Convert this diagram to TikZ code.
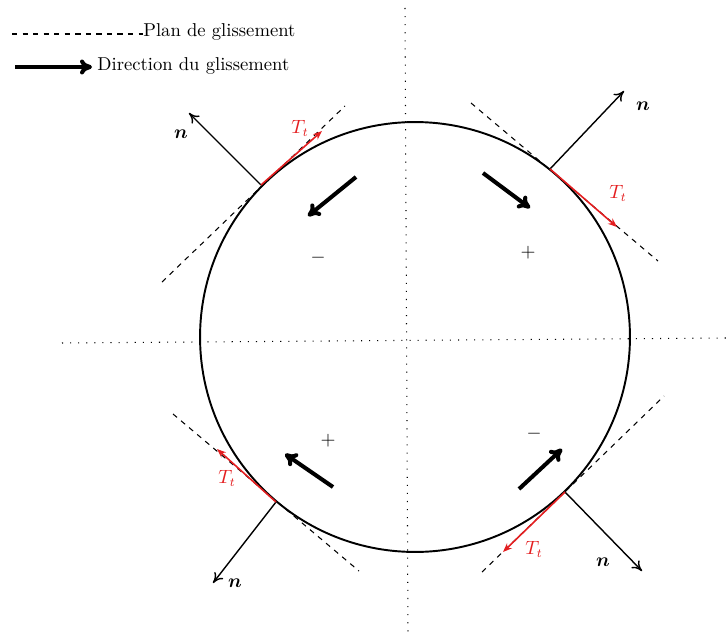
\documentclass[tikz,border=0pt]{standalone}
\usepackage{amsmath,amssymb,bm}
\usetikzlibrary{arrows.meta,positioning,calc}
\definecolor{ink}{HTML}{000000}
\definecolor{tred}{HTML}{E41E20}
\tikzset{
  axe/.style={loosely dotted, line width=0.6pt, draw=ink},
  plan/.style={dashed, line width=0.6pt, draw=ink},
  disque/.style={line width=1.1pt, draw=ink},
  normale/.style={-{To[length=2mm,width=2.2mm]}, line width=0.8pt, draw=ink},
  tang/.style={-{Stealth[length=1.8mm,width=1.4mm]}, line width=0.9pt, draw=tred},
  gliss/.style={-{To[length=2.4mm,width=3mm]}, line width=2.3pt, draw=ink},
  lab/.style={font=\fontsize{10.6pt}{12.7pt}\selectfont, text=ink},
  labt/.style={lab, text=tred},
}

\begin{document}
\begin{tikzpicture}[x=0.02cm,y=-0.02cm]
    \useasboundingbox (0,0) rectangle (726,642);
    % axes
    \coordinate (axN) at (405,8);   \coordinate (axS) at (408,636);
    \coordinate (axW) at (62,343);  \coordinate (axE) at (726,338);
    \draw[axe] (axN) -- (axS);
    \draw[axe] (axW) -- (axE);
    % legende
    \coordinate (lg1) at (12,34);  \coordinate (lg2) at (15,67);
    \node[lab, anchor=west, inner sep=0pt] (tplan) at (143,32) {Plan de glissement};
    \node[lab, anchor=west, inner sep=0pt] (tdir) at (97,66) {Direction du glissement};
    \draw[plan] (lg1) -- (tplan.west |- lg1);
    \draw[gliss] (lg2) -- ($(tdir.west |- lg2)+(-5,0)$);
    % plans de glissement
    \coordinate (d1a) at (162,282); \coordinate (d1b) at (345,106);
    \coordinate (d2a) at (471,103); \coordinate (d2b) at (658,261);
    \coordinate (d3a) at (173,414); \coordinate (d3b) at (359,571);
    \coordinate (d4a) at (482,572); \coordinate (d4b) at (664,396);
    \foreach \d in {1,2,3,4} \draw[plan] (d\d a) -- (d\d b);
    % disque
    \coordinate (O) at (415,337);
    \draw[disque] (O) circle[radius=4.3cm];
    % points de contact, normales, tangentes
    \coordinate (p1) at (261,185); \coordinate (n1) at (189,113); \coordinate (t1) at (322,131);
    \coordinate (p2) at (550,169); \coordinate (n2) at (624,91);  \coordinate (t2) at (617,227);
    \coordinate (p3) at (276,502); \coordinate (n3) at (213,583); \coordinate (t3) at (217,449);
    \coordinate (p4) at (565,492); \coordinate (n4) at (642,571); \coordinate (t4) at (503,552);
    \foreach \i in {1,2,3,4} {
      \draw[normale] (p\i) -- (n\i);
      \draw[tang] (p\i) -- (t\i);
    }
    \node[lab] (ln1) at (181,134) {$\bm{n}$};
    \node[lab] (ln2) at (643,106) {$\bm{n}$};
    \node[lab] (ln3) at (235,583) {$\bm{n}$};
    \node[lab] (ln4) at (603,562) {$\bm{n}$};
    \node[labt] (lt1) at (300,128) {$T_t$};
    \node[labt] (lt2) at (618,193) {$T_t$};
    \node[labt] (lt3) at (227,478) {$T_t$};
    \node[labt] (lt4) at (534,549) {$T_t$};
    % sens du glissement
    \coordinate (g1a) at (356,177); \coordinate (g1b) at (308,216);
    \coordinate (g2a) at (483,173); \coordinate (g2b) at (530,208);
    \coordinate (g3a) at (333,487); \coordinate (g3b) at (285,454);
    \coordinate (g4a) at (519,489); \coordinate (g4b) at (562,449);
    \foreach \g in {1,2,3,4} \draw[gliss] (g\g a) -- (g\g b);
    \node[lab] (s1) at (318,258) {$-$};
    \node[lab] (s2) at (528,253) {$+$};
    \node[lab] (s3) at (328,441) {$+$};
    \node[lab] (s4) at (534,434) {$-$};
  \end{tikzpicture}
\end{document}
